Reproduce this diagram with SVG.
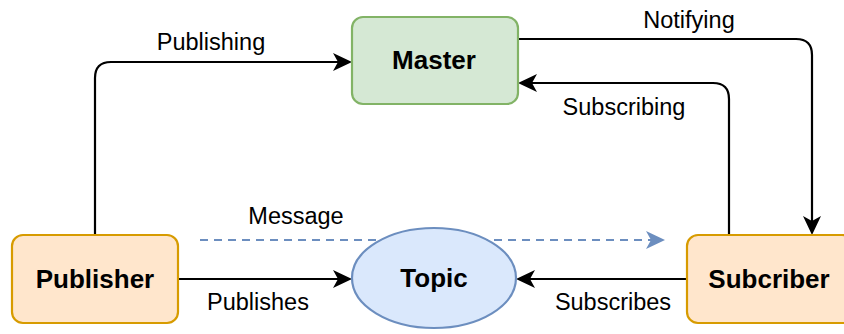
<svg xmlns="http://www.w3.org/2000/svg" width="844" height="334" viewBox="0 0 844 334">
  <style>
    .node-label { font-family: "Liberation Sans", Arial, sans-serif; font-weight: bold; font-size: 26px; fill: #000; text-anchor: middle; }
    .edge-label { font-family: "Liberation Sans", Arial, sans-serif; font-size: 23.5px; fill: #000; text-anchor: middle; }
    .edge { fill: none; stroke: #000; stroke-width: 2.2; }
    .dashed { fill: none; stroke: #6c8ebf; stroke-width: 2.2; stroke-dasharray: 8 6; }
    .orange { fill: #ffe6cc; stroke: #d79b00; stroke-width: 2.2; }
    .green { fill: #d5e8d4; stroke: #82b366; stroke-width: 2.2; }
    .blue { fill: #dae8fc; stroke: #6c8ebf; stroke-width: 2.2; }
  </style>
  <defs>
    <marker id="arrow" markerUnits="userSpaceOnUse" markerWidth="20" markerHeight="18" refX="5" refY="9" orient="auto" overflow="visible">
      <path d="M0,0 L19,9 L0,18 L5,9 Z" fill="#000"/>
    </marker>
    <marker id="arrow-blue" markerUnits="userSpaceOnUse" markerWidth="20" markerHeight="18" refX="5" refY="9" orient="auto" overflow="visible">
      <path d="M0,0 L19,9 L0,18 L5,9 Z" fill="#6c8ebf"/>
    </marker>
  </defs>

  <g id="connectors">
    <!-- Publisher -> Master -->
    <path class="edge" d="M95,235 V78 Q95,62 111,62 H338" marker-end="url(#arrow)"/>
    <!-- Master -> Subcriber -->
    <path class="edge" d="M518,39 H796 Q812,39 812,55 V221" marker-end="url(#arrow)"/>
    <!-- Subcriber -> Master -->
    <path class="edge" d="M729,235 V99 Q729,83 713,83 H532" marker-end="url(#arrow)"/>
    <!-- Publisher -> Topic -->
    <path class="edge" d="M178,279 H338" marker-end="url(#arrow)"/>
    <!-- Subcriber -> Topic -->
    <path class="edge" d="M687,279 H530" marker-end="url(#arrow)"/>
    <!-- Message flow -->
    <path class="dashed" d="M200,240 H651" marker-end="url(#arrow-blue)"/>

    <text class="edge-label" x="211" y="50">Publishing</text>
    <text class="edge-label" x="689" y="28">Notifying</text>
    <text class="edge-label" x="624" y="115">Subscribing</text>
    <text class="edge-label" x="296" y="224">Message</text>
    <text class="edge-label" x="258" y="310">Publishes</text>
    <text class="edge-label" x="613" y="310">Subscribes</text>
  </g>

  <g id="master">
    <rect class="green" x="352" y="17" width="166" height="87" rx="11"/>
    <text class="node-label" x="434" y="69">Master</text>
  </g>

  <g id="publisher">
    <rect class="orange" x="12" y="235" width="166" height="88" rx="11"/>
    <text class="node-label" x="95" y="288">Publisher</text>
  </g>

  <g id="subcriber">
    <rect class="orange" x="687" y="235" width="166" height="88" rx="11"/>
    <text class="node-label" x="769" y="288">Subcriber</text>
  </g>

  <g id="topic">
    <ellipse class="blue" cx="434" cy="278" rx="82" ry="50"/>
    <text class="node-label" x="434" y="287">Topic</text>
  </g>
</svg>
